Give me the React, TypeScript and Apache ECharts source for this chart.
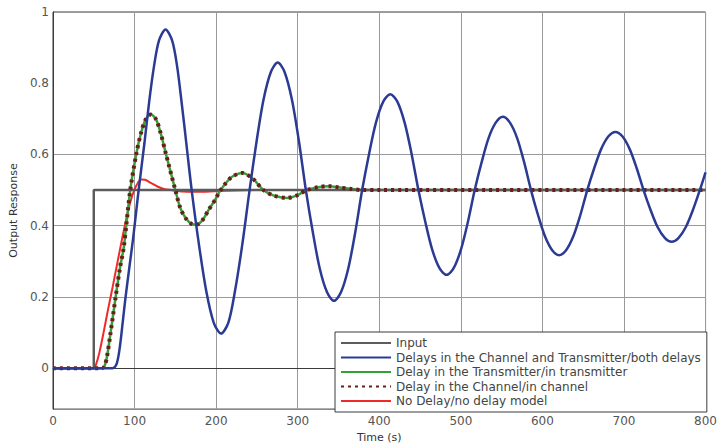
import React, { useEffect, useRef } from "react";
import * as echarts from "echarts";

// ---- data (time in s, output response) ----
const inputT = [0, 50, 50, 800];
const inputV = [0, 0, 0.5, 0.5];

const bothT = [0, 73, 78, 82, 86, 89, 94, 98, 102, 105, 112, 118, 124, 130, 138, 146, 152, 158, 164, 170,
  179, 188, 197, 206, 215, 223, 232, 241, 249.6, 258, 267, 275.5, 284, 293, 301.5, 310,
  318.6, 327, 336, 344.5, 353, 362, 370.5, 379, 387.6, 396, 405, 413.5, 422, 431, 439.5, 448,
  456.6, 465, 474, 482.5, 491, 500, 508.5, 517, 525.6, 534, 543, 551.5, 560, 569, 577.5, 586,
  594.6, 603, 612, 620.5, 629, 638, 646.5, 655, 663.6, 672, 681, 689.5, 698, 707, 715.5, 724,
  732.6, 741, 750, 758.5, 767, 776, 784.5, 793, 800];
const bothV = [0, 0, 0.012, 0.06, 0.14, 0.2, 0.29, 0.36, 0.44, 0.5, 0.63, 0.75, 0.85, 0.92, 0.951, 0.92, 0.85, 0.74, 0.62, 0.5,
  0.346, 0.215, 0.128, 0.097, 0.128, 0.215, 0.346, 0.5, 0.637, 0.753, 0.831, 0.858, 0.831, 0.753, 0.637, 0.5,
  0.381, 0.28, 0.213, 0.189, 0.213, 0.28, 0.381, 0.5, 0.603, 0.69, 0.749, 0.769, 0.749, 0.69, 0.603, 0.5,
  0.409, 0.332, 0.28, 0.262, 0.28, 0.332, 0.409, 0.5, 0.579, 0.646, 0.69, 0.706, 0.69, 0.646, 0.579, 0.5,
  0.43, 0.371, 0.331, 0.317, 0.331, 0.371, 0.43, 0.5, 0.562, 0.615, 0.651, 0.663, 0.651, 0.615, 0.562, 0.5,
  0.444, 0.397, 0.366, 0.355, 0.366, 0.397, 0.444, 0.5, 0.55];

const transT = [0, 60, 63, 66, 70, 76.8, 82, 86.6, 89.8, 94.7, 102, 108, 114, 120, 126, 132, 138.6, 150,
  156, 163, 170, 176, 183, 191, 199.6, 204, 212, 220, 232, 245, 258, 270, 287, 300, 311, 325, 338, 352, 366, 380, 400, 800];
const transV = [0, 0, 0.005, 0.03, 0.09, 0.2, 0.28, 0.337, 0.4, 0.5, 0.6, 0.661, 0.7, 0.712, 0.7, 0.66, 0.6, 0.5,
  0.45, 0.42, 0.405, 0.403, 0.415, 0.445, 0.476, 0.495, 0.52, 0.538, 0.548, 0.532, 0.5, 0.485, 0.478, 0.486, 0.5, 0.508, 0.511, 0.507, 0.503, 0.5, 0.5, 0.5];

// the channel-delay response coincides with the transmitter-delay response
const channelT = transT;
const channelV = transV;

const noDelayT = [0, 50, 53, 57, 62, 67.5, 72, 78, 84, 90, 95, 100, 104, 108, 113, 120, 128, 136, 145, 160, 180, 210, 250, 800];
const noDelayV = [0, 0, 0.012, 0.045, 0.1, 0.165, 0.215, 0.285, 0.355, 0.42, 0.468, 0.502, 0.52, 0.53, 0.529, 0.52, 0.51, 0.503, 0.5, 0.496, 0.495, 0.498, 0.5, 0.5];

const yLabels = [0, 0.2, 0.4, 0.6, 0.8, 1];
const yGrid = [0, 0.2, 0.4, 0.6, 1]; // no 0.8 grid line visible in the reference

const names = [
  "Input",
  "Delays in the Channel and Transmitter/both delays",
  "Delay in the Transmitter/in transmitter",
  "Delay in the Channel/in channel",
  "No Delay/no delay model",
];

const pairs = (t: number[], v: number[]) => t.map((x, i) => [x, v[i]]);

const FONT = "DejaVu Sans";

export default function App() {
  const ref = useRef<HTMLDivElement>(null);
  useEffect(() => {
    if (!ref.current) return;
    const chart = echarts.init(ref.current, null, { renderer: "svg" });
    chart.setOption({
      animation: false,
      backgroundColor: "#ffffff",
      grid: {
        left: 53, right: 11, top: 12, bottom: 36,
        show: true, borderColor: "#3a3a3a", borderWidth: 1, backgroundColor: "transparent",
      },
      xAxis: {
        type: "value", min: 0, max: 800, interval: 100,
        name: "Time (s)", nameLocation: "middle", nameGap: 19,
        nameTextStyle: { fontFamily: FONT, fontSize: 11, color: "#333" },
        axisLine: { show: true, lineStyle: { color: "#3a3a3a", width: 1 } },
        axisTick: { show: false },
        axisLabel: { fontFamily: FONT, fontSize: 12, color: "#555", margin: 6 },
        splitLine: { show: true, lineStyle: { color: "#999999", width: 1 } },
      },
      yAxis: {
        type: "value", min: -0.115, max: 1,
        name: "Output Response", nameLocation: "middle", nameGap: 32,
        nameTextStyle: { fontFamily: FONT, fontSize: 11, color: "#333" },
        axisLine: { show: true, lineStyle: { color: "#3a3a3a", width: 1 } },
        axisTick: { show: false, customValues: yGrid },
        axisLabel: { fontFamily: FONT, fontSize: 12, color: "#555", margin: 4, customValues: yLabels },
        splitLine: { show: true, lineStyle: { color: "#999999", width: 1 } },
      },
      legend: {
        data: names,
        orient: "vertical",
        left: 335, top: 332,
        itemWidth: 50, itemHeight: 10, itemGap: 0.5,
        padding: [4, 6, 4, 5],
        borderColor: "#3a3a3a", borderWidth: 1, borderRadius: 0,
        backgroundColor: "#ffffff",
        itemStyle: { opacity: 0 },
        textStyle: { fontFamily: FONT, fontSize: 12, color: "#444", lineHeight: 14 },
        selectedMode: false,
      },
      series: [
        {
          name: names[0], type: "line", data: pairs(inputT, inputV), symbol: "none", z: 4,
          lineStyle: { color: "#5c5c5c", width: 2.5 }, itemStyle: { color: "#5c5c5c" },
        },
        {
          name: names[1], type: "line", data: pairs(bothT, bothV), symbol: "none", smooth: 0.3, z: 6,
          lineStyle: { color: "#2b3a93", width: 2.5 }, itemStyle: { color: "#2b3a93" },
        },
        {
          name: names[2], type: "line", data: pairs(transT, transV), symbol: "none", smooth: 0.3, z: 3,
          lineStyle: { color: "#35a035", width: 2.5 }, itemStyle: { color: "#35a035" },
        },
        {
          name: names[3], type: "line", data: pairs(channelT, channelV), symbol: "none", smooth: 0.3, z: 5,
          lineStyle: { color: "#6b1d1d", width: 4, type: [3, 4] }, itemStyle: { color: "#6b1d1d" },
        },
        {
          name: names[4], type: "line", data: pairs(noDelayT, noDelayV), symbol: "none", smooth: 0.3, z: 2,
          lineStyle: { color: "#ee2a2a", width: 2 }, itemStyle: { color: "#ee2a2a" },
        },
      ],
    });
    return () => chart.dispose();
  }, []);
  return <div ref={ref} style={{ position: "fixed", left: 0, top: 0, width: 720, height: 448 }} />;
}
